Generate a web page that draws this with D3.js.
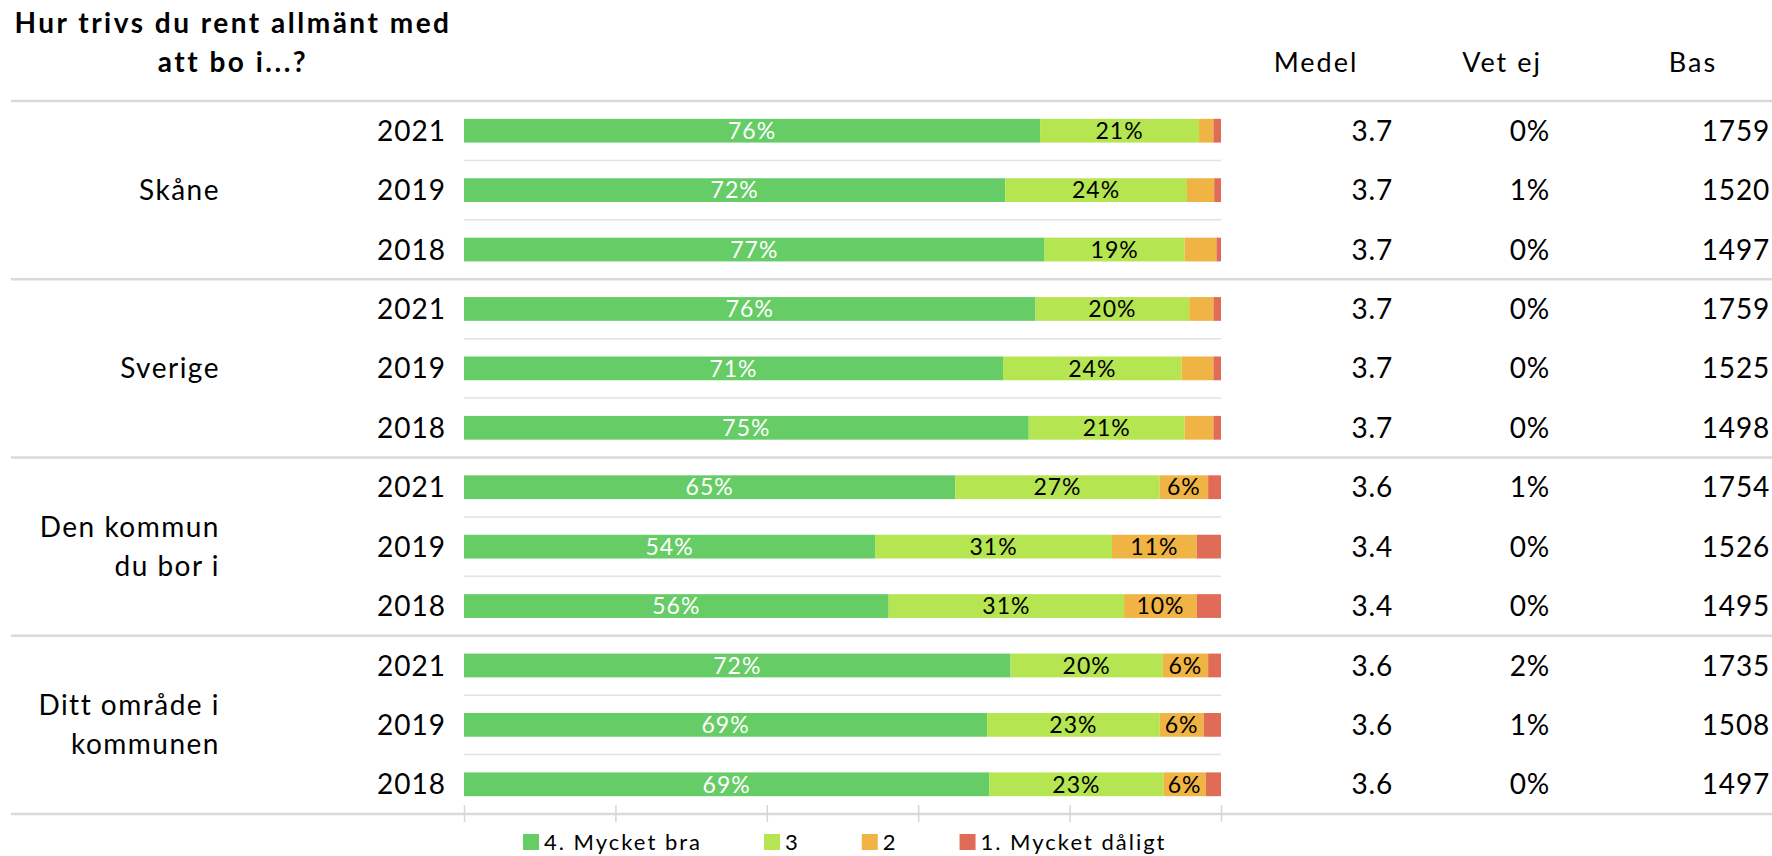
<!DOCTYPE html>
<html><head><meta charset="utf-8">
<script src="https://cdn.jsdelivr.net/npm/d3@7"></script>
<style>
body{margin:0;background:#fff;}
text{font-family:Lato, "Open Sans", sans-serif; fill:#000;}
</style>
</head><body>
<svg id="c" width="1772" height="856"></svg>
<script>
// ---- data ----
const title = ["Hur trivs du rent allmänt med", "att bo i...?"];
const groupLabels = [["Skåne"], ["Sverige"], ["Den kommun", "du bor i"], ["Ditt område i", "kommunen"]];
const years = ["2021", "2019", "2018"];
const seriesNames = ["4. Mycket bra", "3", "2", "1. Mycket dåligt"];
const seriesColors = ["#66CC66", "#B5E550", "#F0B445", "#E06C57"];
const mycketBra = [76.1, 71.5, 76.7, 75.5, 71.2, 74.6, 64.9, 54.3, 56.1, 72.2, 69.1, 69.4];
const tre       = [21.0, 24.0, 18.5, 20.3, 23.6, 20.6, 27.0, 31.3, 31.1, 20.1, 22.8, 23.0];
const tva       = [1.9, 3.6, 4.2, 3.2, 4.2, 3.8, 6.4, 11.2, 9.6, 6.0, 5.8, 5.6];
const mycketDaligt = [1.0, 0.9, 0.6, 1.0, 1.0, 1.0, 1.7, 3.2, 3.2, 1.7, 2.3, 2.0];
const columnHeaders = ["Medel", "Vet ej", "Bas"];
const medel = ["3.7", "3.7", "3.7", "3.7", "3.7", "3.7", "3.6", "3.4", "3.4", "3.6", "3.6", "3.6"];
const vetEj = ["0%", "1%", "0%", "0%", "0%", "0%", "1%", "0%", "0%", "2%", "1%", "0%"];
const bas = ["1759", "1520", "1497", "1759", "1525", "1498", "1754", "1526", "1495", "1735", "1508", "1497"];
const tickValues = [0, 20, 40, 60, 80, 100];

// ---- build table ----
const keys = ["s0", "s1", "s2", "s3"];
const rows = mycketBra.map((v, i) => ({
  id: i, group: Math.floor(i / 3), year: years[i % 3],
  s0: v, s1: tre[i], s2: tva[i], s3: mycketDaligt[i],
  medel: medel[i], vetEj: vetEj[i], bas: bas[i]
}));

const svg = d3.select("#c");
const W = 1772;
const x = d3.scaleLinear().domain([0, 100]).range([464, 1221]);
const y = d3.scaleBand().domain(rows.map(d => d.id)).range([101, 814]).paddingInner(0.6).paddingOuter(0.3);
const bw = y.bandwidth(), half = (y.step() - bw) / 2;
const color = d3.scaleOrdinal().domain(keys).range(seriesColors);

// separators
const rowLines = rows.filter(d => d.id % 3 !== 2);
svg.append("g").selectAll("line").data(rowLines).join("line")
  .attr("x1", x(0)).attr("x2", x(100))
  .attr("y1", d => y(d.id) + bw + half).attr("y2", d => y(d.id) + bw + half)
  .attr("stroke", "#E2E2E2").attr("stroke-width", 1.5);

const groupIdx = d3.range(groupLabels.length + 1);
const gy = g => g < groupLabels.length ? y(g * 3) - half : y(rows.length - 1) + bw + half;
svg.append("g").selectAll("line").data(groupIdx).join("line")
  .attr("x1", 11).attr("x2", W)
  .attr("y1", gy).attr("y2", gy)
  .attr("stroke", "#DADADA").attr("stroke-width", 2.5);

// axis ticks
const axis = svg.append("g").attr("transform", "translate(0,805)")
  .call(d3.axisBottom(x).tickValues(tickValues).tickSize(17).tickFormat(""));
axis.select(".domain").remove();
axis.selectAll(".tick line").attr("stroke", "#D6D6D6").attr("stroke-width", 1.5);

// bars
const stacked = d3.stack().keys(keys)(rows);
const layers = svg.append("g").selectAll("g").data(stacked).join("g")
  .attr("fill", d => color(d.key));
layers.selectAll("rect").data(d => d).join("rect")
  .attr("x", d => x(d[0])).attr("width", d => x(d[1]) - x(d[0]))
  .attr("y", d => y(d.data.id)).attr("height", bw);

// bar labels
const lab = svg.append("g");
stacked.forEach((layer, li) => {
  lab.selectAll(null).data(layer.filter(d => d[1] - d[0] >= 5)).join("text")
    .attr("x", d => x((d[0] + d[1]) / 2))
    .attr("y", d => y(d.data.id) + bw / 2)
    .attr("dy", "0.36em")
    .attr("text-anchor", "middle")
    .style("font-size", "23px").style("letter-spacing", "1px")
    .style("fill", li === 0 ? "#fff" : "#000")
    .text(d => Math.round(d[1] - d[0]) + "%");
});

// year labels
svg.append("g").selectAll("text").data(rows).join("text")
  .attr("x", 446).attr("y", d => y(d.id) + bw / 2).attr("dy", "0.36em")
  .attr("text-anchor", "end").style("font-size", "28px").style("letter-spacing", "1px")
  .text(d => d.year);

// group labels
const gl = svg.append("g");
groupLabels.forEach((lines, g) => {
  const cy = (y(g * 3) + y(g * 3 + 2) + bw) / 2;
  const lh = 39;
  lines.forEach((ln, k) => {
    gl.append("text").attr("x", 220)
      .attr("y", cy + (k - (lines.length - 1) / 2) * lh).attr("dy", "0.36em")
      .attr("text-anchor", "end").style("font-size", "28px").style("letter-spacing", "1.5px")
      .text(ln);
  });
});

// value columns
const colX = [1393, 1550, 1770];
const colKeys = ["medel", "vetEj", "bas"];
colKeys.forEach((k, ci) => {
  svg.append("g").selectAll("text").data(rows).join("text")
    .attr("x", colX[ci]).attr("y", d => y(d.id) + bw / 2).attr("dy", "0.36em")
    .attr("text-anchor", "end").style("font-size", "28px").style("letter-spacing", "0.8px")
    .text(d => d[k]);
});

// column headers
const headX = [1316, 1502, 1693];
svg.append("g").selectAll("text").data(columnHeaders).join("text")
  .attr("x", (d, i) => headX[i]).attr("y", 72)
  .attr("text-anchor", "middle").style("font-size", "27px").style("letter-spacing", "2px")
  .text(d => d);

// title
svg.append("g").selectAll("text").data(title).join("text")
  .attr("x", 233).attr("y", (d, i) => 33 + i * 39)
  .attr("text-anchor", "middle").style("font-size", "28px").style("font-weight", "bold")
  .style("letter-spacing", "2.5px")
  .text(d => d);

// legend
const leg = svg.append("g").attr("transform", "translate(0,842)");
let lx = 523;
seriesNames.forEach((name, i) => {
  leg.append("rect").attr("x", lx).attr("y", -8).attr("width", 16).attr("height", 16)
    .attr("fill", seriesColors[i]);
  const t = leg.append("text").attr("x", lx + 21).attr("y", 0).attr("dy", "0.36em")
    .style("font-size", "22px").style("letter-spacing", "2px").text(name);
  lx += 21 + t.node().getComputedTextLength() + 62;
});
</script>
</body></html>
